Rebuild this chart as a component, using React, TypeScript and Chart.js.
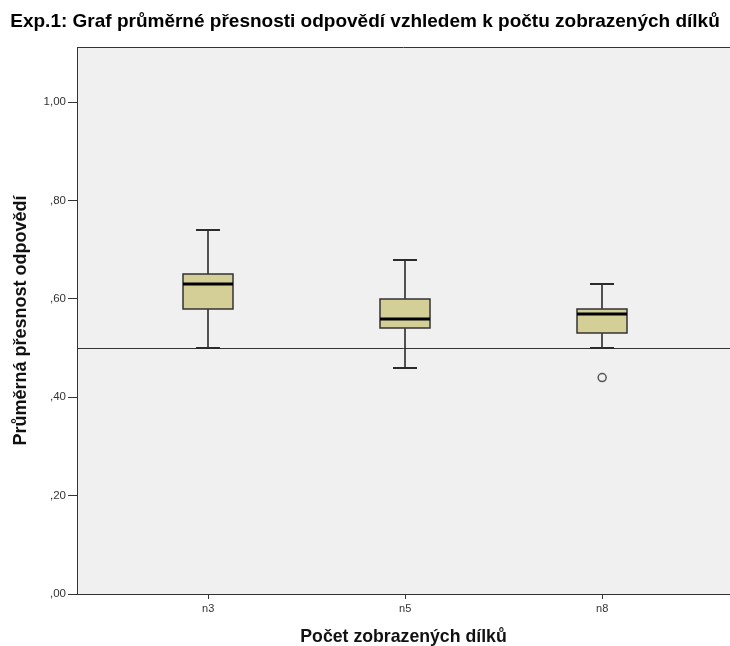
import React, { useEffect, useRef } from "react";
import { Chart, registerables } from "chart.js";

Chart.register(...registerables);

// ---- data ----
const categories = ["n3", "n5", "n8"];
const whiskerLow = [0.5, 0.46, 0.5];
const quartile1 = [0.58, 0.54, 0.53];
const medians = [0.63, 0.56, 0.57];
const quartile3 = [0.65, 0.6, 0.58];
const whiskerHigh = [0.74, 0.68, 0.63];
const outlierCategory = [2];
const outlierValue = [0.44];
const yTicks = [0, 0.2, 0.4, 0.6, 0.8, 1.0];
const referenceValue = 0.5;

const titleText = "Exp.1: Graf průměrné přesnosti odpovědí vzhledem k počtu zobrazených dílků";
const xTitle = "Počet zobrazených dílků";
const yTitle = "Průměrná přesnost odpovědí";

const formatTick = (v: number) => {
  const s = v.toFixed(2).replace(".", ",");
  return s.startsWith("0,") ? s.slice(1) : s;
};

const crisp = (v: number) => Math.round(v) + 0.5;

const boxPlugin = {
  id: "boxplotDraw",
  beforeDraw(chart: any) {
    const { ctx, chartArea: a } = chart;
    ctx.save();
    ctx.fillStyle = "#F0F0F0";
    ctx.fillRect(a.left, a.top, chart.width - a.left, a.bottom - a.top);
    ctx.restore();
  },
  beforeDatasetsDraw(chart: any) {
    const { ctx, chartArea: a } = chart;
    const xs = chart.scales.x;
    const ys = chart.scales.y;
    ctx.save();
    ctx.strokeStyle = "#333";
    ctx.lineWidth = 1;
    ctx.beginPath();
    ctx.moveTo(a.left, crisp(a.top));
    ctx.lineTo(chart.width, crisp(a.top));
    ctx.stroke();
    const ry = crisp(ys.getPixelForValue(referenceValue));
    ctx.beginPath();
    ctx.moveTo(a.left, ry);
    ctx.lineTo(chart.width, ry);
    ctx.stroke();

    const boxHalf = 25;
    const capHalf = 12;
    categories.forEach((_, i) => {
      const cx = Math.round(xs.getPixelForValue(i));
      const yLo = ys.getPixelForValue(whiskerLow[i]);
      const yQ1 = ys.getPixelForValue(quartile1[i]);
      const yMed = ys.getPixelForValue(medians[i]);
      const yQ3 = ys.getPixelForValue(quartile3[i]);
      const yHi = ys.getPixelForValue(whiskerHigh[i]);
      ctx.strokeStyle = "#2b2b2b";
      ctx.lineWidth = 1.6;
      ctx.beginPath();
      ctx.moveTo(cx, yHi);
      ctx.lineTo(cx, yQ3);
      ctx.moveTo(cx, yQ1);
      ctx.lineTo(cx, yLo);
      ctx.stroke();
      ctx.lineWidth = 2;
      ctx.beginPath();
      ctx.moveTo(cx - capHalf, Math.round(yHi));
      ctx.lineTo(cx + capHalf, Math.round(yHi));
      ctx.moveTo(cx - capHalf, Math.round(yLo));
      ctx.lineTo(cx + capHalf, Math.round(yLo));
      ctx.stroke();
      ctx.fillStyle = "#D3CF97";
      const top = Math.round(yQ3);
      const bot = Math.round(yQ1);
      ctx.fillRect(cx - boxHalf, top, boxHalf * 2, bot - top);
      ctx.strokeStyle = "#333";
      ctx.lineWidth = 1.5;
      ctx.strokeRect(cx - boxHalf, top, boxHalf * 2, bot - top);
      ctx.strokeStyle = "#000";
      ctx.lineWidth = 3;
      ctx.beginPath();
      ctx.moveTo(cx - boxHalf, Math.round(yMed));
      ctx.lineTo(cx + boxHalf, Math.round(yMed));
      ctx.stroke();
    });
    ctx.restore();
  },
};

export default function App() {
  const ref = useRef<HTMLCanvasElement | null>(null);
  useEffect(() => {
    document.body.style.margin = "0";
    if (!ref.current) return;
    Chart.defaults.font.family = '"Liberation Sans", Arial, sans-serif';
    const chart = new Chart(ref.current, {
      type: "scatter",
      data: {
        datasets: [
          {
            data: outlierCategory.map((c, i) => ({ x: c, y: outlierValue[i] })),
            pointRadius: 4,
            pointHoverRadius: 4,
            pointBorderWidth: 1.5,
            borderColor: "#555",
            backgroundColor: "rgba(0,0,0,0)",
          },
        ],
      },
      options: {
        animation: false,
        responsive: false,
        devicePixelRatio: 1,
        layout: { padding: 0, autoPadding: false },
        plugins: {
          legend: { display: false },
          tooltip: { enabled: false },
          title: {
            display: true,
            text: titleText,
            color: "#000",
            font: { size: 19, weight: "bold", lineHeight: 1 },
            padding: { top: 12.5, bottom: 15.5 },
          },
        },
        scales: {
          x: {
            type: "linear",
            min: -0.666,
            max: 2.649,
            afterBuildTicks: (s: any) => {
              s.ticks = categories.map((_, i) => ({ value: i }));
            },
            afterFit: (s: any) => {
              s.height = 52;
            },
            ticks: {
              callback: (v: any) => categories[v as number] ?? "",
              color: "#333",
              font: { size: 11 },
              padding: 3,
              autoSkip: false,
              maxRotation: 0,
            },
            grid: { drawOnChartArea: false, drawTicks: true, tickLength: 5, color: "#333" },
            border: { color: "#333", width: 1 },
            title: {
              display: true,
              text: xTitle,
              color: "#111",
              font: { size: 17.7, weight: "bold", lineHeight: 1 },
              padding: { top: 0, bottom: 0 },
            },
          },
          y: {
            type: "linear",
            min: 0,
            max: 1.112,
            afterBuildTicks: (s: any) => {
              s.ticks = yTicks.map((v) => ({ value: v }));
            },
            afterFit: (s: any) => {
              s.width = 77;
            },
            ticks: {
              callback: (v: any) => formatTick(v as number),
              color: "#333",
              font: { size: 11.5 },
              padding: 2,
            },
            grid: { drawOnChartArea: false, drawTicks: true, tickLength: 9, color: "#333" },
            border: { color: "#333", width: 1 },
            title: {
              display: true,
              text: yTitle,
              color: "#111",
              font: { size: 18, weight: "bold", lineHeight: 1 },
              padding: { top: 12, bottom: 0 },
            },
          },
        },
      },
      plugins: [boxPlugin],
    } as any);
    return () => chart.destroy();
  }, []);
  return (
    <div style={{ width: 730, height: 646 }}>
      <canvas ref={ref} width={730} height={646} />
    </div>
  );
}
